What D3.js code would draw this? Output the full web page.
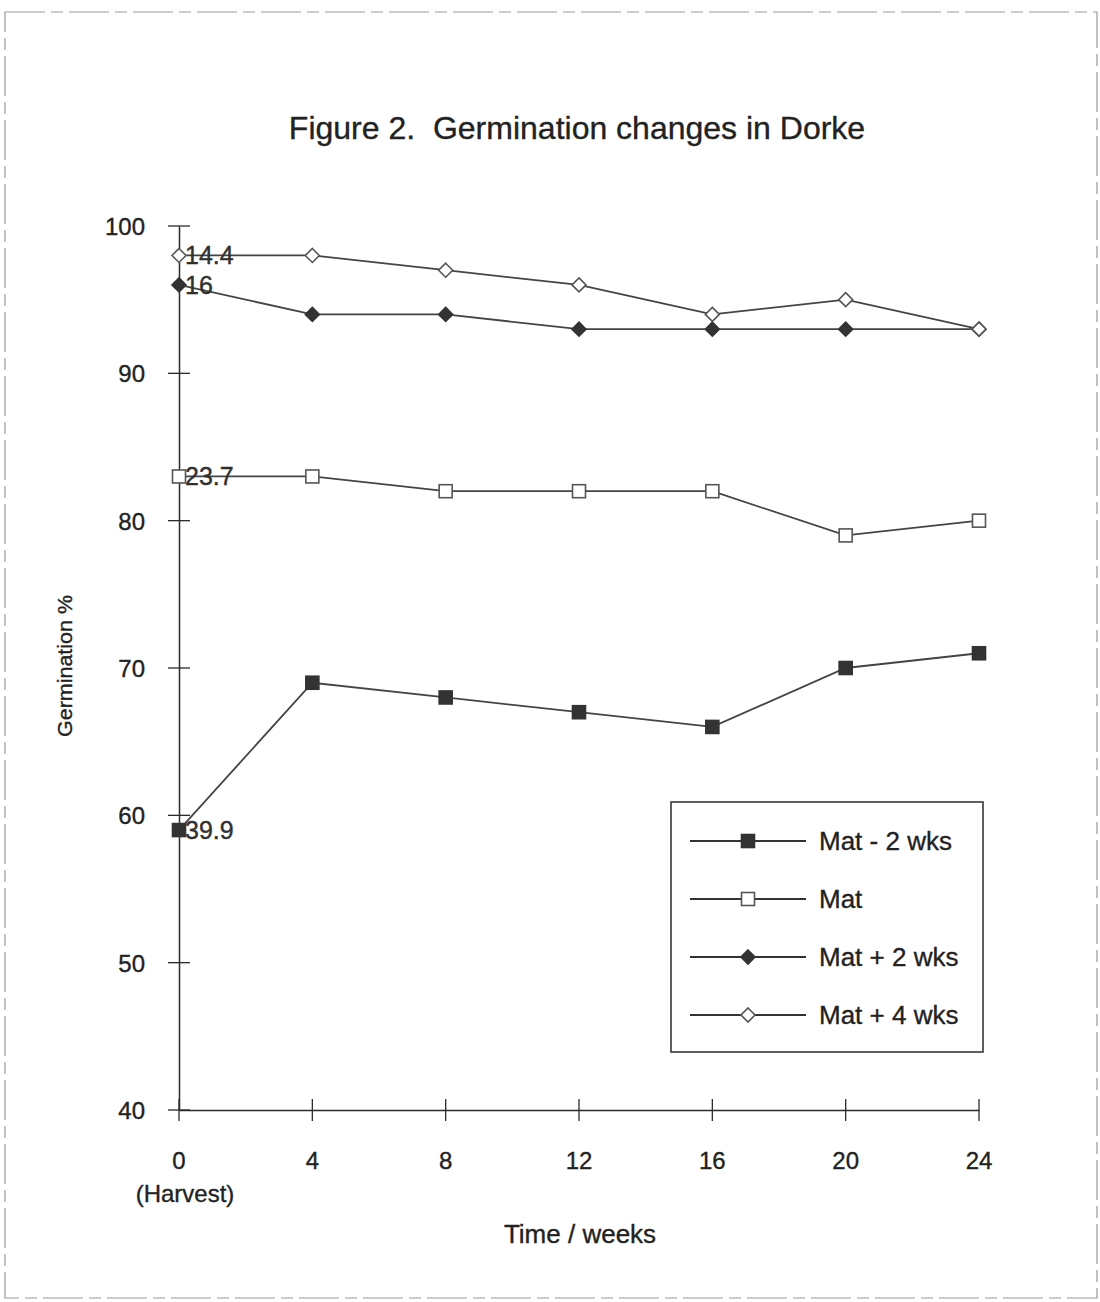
<!DOCTYPE html>
<html>
<head>
<meta charset="utf-8">
<script src="https://cdn.jsdelivr.net/npm/d3@7"></script>
<style>
  body { margin: 0; background: #fff; }
  svg { display: block; font-family: "Liberation Sans", Arial, sans-serif; }
  text { white-space: pre; stroke: #222; stroke-width: 0.35; }
</style>
</head>
<body>
<svg id="chart" width="1100" height="1302"></svg>
<script>
// data
var weeks = [0, 4, 8, 12, 16, 20, 24]
var matMinus2 = [59, 69, 68, 67, 66, 70, 71]
var mat = [83, 83, 82, 82, 82, 79, 80]
var matPlus2 = [96, 94, 94, 93, 93, 93, 93]
var matPlus4 = [98, 98, 97, 96, 94, 95, 93]
var seriesNames = ['Mat - 2 wks', 'Mat', 'Mat + 2 wks', 'Mat + 4 wks']
var startLabels = ['39.9', '23.7', '16', '14.4']
var yTicks = [40, 50, 60, 70, 80, 90, 100]

var series = [
    { name: seriesNames[0], values: matMinus2, shape: 'square', filled: true, label: startLabels[0] },
    { name: seriesNames[1], values: mat, shape: 'square', filled: false, label: startLabels[1] },
    { name: seriesNames[2], values: matPlus2, shape: 'diamond', filled: true, label: startLabels[2] },
    { name: seriesNames[3], values: matPlus4, shape: 'diamond', filled: false, label: startLabels[3] }
]

var svg = d3.select('#chart')
var ink = '#2b2b2b'

// scanned page frame
svg.append('rect')
    .attr('x', 5).attr('y', 12)
    .attr('width', 1092).attr('height', 1286)
    .attr('fill', 'none')
    .attr('stroke', '#999')
    .attr('stroke-width', 1.2)
    .attr('stroke-dasharray', '40,6,12,6')

var x = d3.scaleLinear().domain([0, 24]).range([179, 979])
var y = d3.scaleLinear().domain([40, 100]).range([1110, 226])

// title
svg.append('text')
    .attr('x', 577).attr('y', 139)
    .attr('text-anchor', 'middle')
    .attr('font-size', 32)
    .attr('fill', '#222')
    .text('Figure 2.  Germination changes in Dorke')

// axes drawn by hand (ticks cross the axis line)
var gy = svg.append('g').attr('transform', `translate(${x(0)},0)`)
gy.call(d3.axisLeft(y).tickValues(yTicks).tickSize(0).tickFormat(''))
gy.select('.domain').attr('stroke', ink).attr('stroke-width', 1.5)
yTicks.forEach(v => {
    gy.append('line')
        .attr('x1', -11).attr('x2', 11)
        .attr('y1', y(v)).attr('y2', y(v))
        .attr('stroke', ink).attr('stroke-width', 1.3)
    gy.append('text')
        .attr('x', -34).attr('y', y(v) + 9)
        .attr('text-anchor', 'end')
        .attr('font-size', 24)
        .attr('fill', '#222')
        .text(v)
})

var gx = svg.append('g').attr('transform', `translate(0,${y(40)})`)
gx.call(d3.axisBottom(x).tickValues(weeks).tickSize(0).tickFormat(''))
gx.select('.domain').attr('stroke', ink).attr('stroke-width', 1.5)
weeks.forEach(w => {
    gx.append('line')
        .attr('x1', x(w)).attr('x2', x(w))
        .attr('y1', -11).attr('y2', 11)
        .attr('stroke', ink).attr('stroke-width', 1.3)
    gx.append('text')
        .attr('x', x(w)).attr('y', 59)
        .attr('text-anchor', 'middle')
        .attr('font-size', 24)
        .attr('fill', '#222')
        .text(w)
})
gx.append('text')
    .attr('x', x(0) + 6).attr('y', 92)
    .attr('text-anchor', 'middle')
    .attr('font-size', 24)
    .attr('fill', '#222')
    .text('(Harvest)')

svg.append('text')
    .attr('x', 580).attr('y', 1243)
    .attr('text-anchor', 'middle')
    .attr('font-size', 26)
    .attr('fill', '#222')
    .text('Time / weeks')

svg.append('text')
    .attr('transform', 'translate(72,666) rotate(-90)')
    .attr('text-anchor', 'middle')
    .attr('font-size', 21)
    .attr('textLength', 142)
    .attr('lengthAdjust', 'spacingAndGlyphs')
    .attr('fill', '#222')
    .text('Germination %')

// markers
function marker(g, shape, filled) {
    if (shape === 'square') {
        g.append('rect')
            .attr('x', -6.5).attr('y', -6.5)
            .attr('width', 13).attr('height', 13)
            .attr('fill', filled ? '#333' : '#fff')
            .attr('stroke', filled ? '#333' : '#555')
            .attr('stroke-width', 1.6)
    } else {
        g.append('path')
            .attr('d', 'M0,-7L7,0L0,7L-7,0Z')
            .attr('fill', filled ? '#333' : '#fff')
            .attr('stroke', filled ? '#333' : '#555')
            .attr('stroke-width', 1.6)
    }
}

var line = d3.line()
    .x((d, i) => x(weeks[i]))
    .y(d => y(d))

series.forEach(s => {
    svg.append('path')
        .datum(s.values)
        .attr('d', line)
        .attr('fill', 'none')
        .attr('stroke', '#444')
        .attr('stroke-width', 1.8)
    s.values.forEach((v, i) => {
        let g = svg.append('g').attr('transform', `translate(${x(weeks[i])},${y(v)})`)
        marker(g, s.shape, s.filled)
    })
    svg.append('text')
        .attr('x', x(0) + 6).attr('y', y(s.values[0]) + 9)
        .attr('font-size', 25)
        .attr('fill', '#333')
        .text(s.label)
})

// legend
var legend = svg.append('g').attr('transform', 'translate(671,802)')
legend.append('rect')
    .attr('width', 312).attr('height', 250)
    .attr('fill', '#fff')
    .attr('stroke', ink)
    .attr('stroke-width', 1.5)
series.forEach((s, i) => {
    let ly = 39 + i * 58
    legend.append('line')
        .attr('x1', 19).attr('x2', 135)
        .attr('y1', ly).attr('y2', ly)
        .attr('stroke', '#333').attr('stroke-width', 1.8)
    let g = legend.append('g').attr('transform', `translate(77,${ly})`)
    marker(g, s.shape, s.filled)
    legend.append('text')
        .attr('x', 148).attr('y', ly + 9)
        .attr('font-size', 26)
        .attr('fill', '#222')
        .text(s.name)
})
</script>
</body>
</html>
